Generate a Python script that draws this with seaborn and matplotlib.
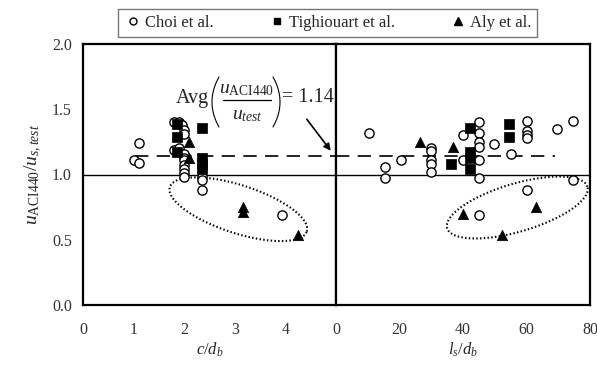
import numpy as np
import pandas as pd
import matplotlib
matplotlib.use("Agg")
import matplotlib.pyplot as plt
from matplotlib.lines import Line2D
import seaborn as sns

# ---- data: left panel (c/db) ----
choi_c = [1.0, 1.1, 1.1, 1.8, 1.9, 1.95, 2.0, 2.0, 1.8, 1.9, 2.0, 2.0, 2.0, 2.0, 2.0, 2.0, 2.0,
          2.35, 2.35, 2.35, 3.93]
choi_c_ratio = [1.11, 1.09, 1.24, 1.40, 1.40, 1.38, 1.34, 1.31, 1.19, 1.20, 1.16, 1.13, 1.11, 1.07,
                1.04, 1.01, 0.98, 0.98, 0.96, 0.88, 0.69]
tigh_c = [1.85, 1.85, 1.85, 2.35, 2.35, 2.35, 2.35]
tigh_c_ratio = [1.387, 1.29, 1.175, 1.354, 1.124, 1.08, 1.04]
aly_c = [2.1, 2.1, 3.16, 3.16, 4.24]
aly_c_ratio = [1.25, 1.13, 0.753, 0.71, 0.536]

# ---- data: right panel (ls/db) ----
choi_l = [10.4, 15.5, 15.5, 20.4, 30.0, 30.0, 30.0, 30.0, 30.0, 40.0, 40.0, 45.1, 45.1, 45.1, 45.1,
          45.1, 45.1, 45.1, 49.9, 55.0, 60.0, 60.0, 60.0, 60.0, 60.0, 69.5, 74.5, 74.5]
choi_l_ratio = [1.32, 1.06, 0.97, 1.11, 1.20, 1.18, 1.11, 1.08, 1.02, 1.30, 1.11, 1.40, 1.32, 1.25,
                1.21, 1.11, 0.976, 0.69, 1.234, 1.155, 1.41, 1.33, 1.30, 1.276, 0.88, 1.346, 1.41, 0.958]
tigh_l = [36.3, 42.3, 42.3, 42.3, 42.3, 54.6, 54.6]
tigh_l_ratio = [1.08, 1.354, 1.175, 1.124, 1.04, 1.387, 1.29]
aly_l = [26.5, 37.0, 39.9, 52.4, 63.0]
aly_l_ratio = [1.25, 1.21, 0.70, 0.536, 0.753]

avg_ratio = 1.14
series_names = ["Choi et al.", "Tighiouart et al.", "Aly et al."]
y_ticks = [0.0, 0.5, 1.0, 1.5, 2.0]
left_xticks = [0, 1, 2, 3, 4]
right_xticks = [0, 20, 40, 60, 80]

sns.set_style("white")
plt.rcParams["font.family"] = ["Liberation Serif", "DejaVu Serif"]
plt.rcParams["mathtext.fontset"] = "custom"
plt.rcParams["mathtext.rm"] = "Liberation Serif"
plt.rcParams["mathtext.it"] = "Liberation Serif:italic"
plt.rcParams["mathtext.bf"] = "Liberation Serif:bold"

W, H = 597, 374
fig = plt.figure(figsize=(W / 100, H / 100), dpi=100)
y0, y1 = 305, 44
axL = fig.add_axes([83 / W, (H - y0) / H, (336 - 83) / W, (y0 - y1) / H])
axR = fig.add_axes([336 / W, (H - y0) / H, (590 - 336) / W, (y0 - y1) / H])

styles = [
    dict(marker="o", facecolor="white", edgecolor="black", s=44, linewidth=1.0),
    dict(marker="s", facecolor="black", edgecolor="black", s=44, linewidth=0.5),
    dict(marker="^", facecolor="black", edgecolor="black", s=56, linewidth=0.5),
]

left_sets = [(choi_c, choi_c_ratio), (tigh_c, tigh_c_ratio), (aly_c, aly_c_ratio)]
right_sets = [(choi_l, choi_l_ratio), (tigh_l, tigh_l_ratio), (aly_l, aly_l_ratio)]

for ax, sets in ((axL, left_sets), (axR, right_sets)):
    for (xs, ys), st, name in zip(sets, styles, series_names):
        df = pd.DataFrame({"x": xs, "y": ys})
        sns.scatterplot(data=df, x="x", y="y", ax=ax, marker=st["marker"], s=st["s"],
                        color=st["facecolor"], edgecolor=st["edgecolor"],
                        linewidth=st["linewidth"], zorder=3, legend=False)

# reference lines
axL.axhline(1.0, color="black", lw=1.0, zorder=2)
axR.axhline(1.0, color="black", lw=1.0, zorder=2)
axL.plot([1.03, 5.0], [avg_ratio, avg_ratio], color="black", lw=1.2, dashes=(8, 5), zorder=2)
axR.plot([0.0, 69.0], [avg_ratio, avg_ratio], color="black", lw=1.2, dashes=(8, 5), zorder=2)

axL.set_xlim(0, 5)
axR.set_xlim(0, 80)
for ax in (axL, axR):
    ax.set_ylim(0, 2.0)
    for sp in ax.spines.values():
        sp.set_color("black")
        sp.set_linewidth(1.6)
    ax.set_ylabel("")

axL.set_xticks(left_xticks)
axR.set_xticks(right_xticks)
axL.set_yticks(y_ticks)
axL.set_yticklabels([f"{v:.1f}" for v in y_ticks])
axR.set_yticks(y_ticks)
axR.set_yticklabels([])
axL.tick_params(axis="x", length=0, pad=12, labelsize=11.5, labelcolor="#333333")
axR.tick_params(axis="x", length=0, pad=12, labelsize=11.5, labelcolor="#333333")
axL.tick_params(axis="y", direction="in", length=6, width=1.6, pad=8, labelsize=11.5,
                labelcolor="#333333")
axR.tick_params(axis="y", direction="out", length=4, width=1.6)

axL.set_xlabel(r"$c/d_b$", fontsize=12, labelpad=2)
axR.set_xlabel(r"$l_s/d_b$", fontsize=12, labelpad=2)
axL.set_ylabel(r"$u_{\rm ACI440}/u_{s,test}$", fontsize=14, labelpad=6)


# dotted ellipses drawn in pixel space and mapped to data units
def dotted_ellipse(ax, cx, cy, a_px, b_px, ang_deg, px_x, px_y):
    t = np.linspace(0, 2 * np.pi, 300)
    th = np.radians(ang_deg)
    dx = a_px * np.cos(t) * np.cos(th) - b_px * np.sin(t) * np.sin(th)
    dy = a_px * np.cos(t) * np.sin(th) + b_px * np.sin(t) * np.cos(th)
    ax.plot(cx + dx / px_x, cy + dy / px_y, color="black", lw=1.5,
            linestyle=(0, (0.7, 1.1)), clip_on=False, zorder=2)


dotted_ellipse(axL, 3.07, 0.734, 72, 24, -18, 50.6, 130.5)
dotted_ellipse(axR, 57.1, 0.747, 73, 24, 16.5, 3.17, 130.5)


# average annotation, typeset piece by piece in pixel positions
def fx(px):
    return px / W


def fy(py):
    return (H - py) / H


fig.text(fx(176), fy(98), "Avg", fontsize=14.5, ha="left", va="center")
fig.text(fx(247), fy(89), r"$u_{\rm ACI440}$", fontsize=14, ha="center", va="center")
fig.text(fx(247), fy(115), r"$u_{test}$", fontsize=14, ha="center", va="center")
fig.add_artist(Line2D([fx(223), fx(271)], [fy(100), fy(100)], color="black", lw=0.9))


def paren(x_edge, x_mid, top, bottom):
    t = np.linspace(-1, 1, 60)
    xs = x_mid + (x_edge - x_mid) * t ** 2
    ys = (top + bottom) / 2 + (bottom - top) / 2 * t
    fig.add_artist(Line2D([fx(v) for v in xs], [fy(v) for v in ys], color="black", lw=0.8))


paren(219, 212, 77, 127)
paren(273, 280, 77, 127)
fig.text(fx(282), fy(98), "= 1.14", fontsize=14.5, ha="left", va="center")

axL.annotate("", xy=(4.93, 1.165), xytext=(4.39, 1.44),
             arrowprops=dict(arrowstyle="-|>", color="black", lw=1.2, mutation_scale=10))

# legend above the panels
handles = [
    Line2D([], [], marker="o", linestyle="none", markerfacecolor="white",
           markeredgecolor="black", markersize=5, markeredgewidth=1.0),
    Line2D([], [], marker="s", linestyle="none", markerfacecolor="black",
           markeredgecolor="black", markersize=5),
    Line2D([], [], marker="^", linestyle="none", markerfacecolor="black",
           markeredgecolor="black", markersize=5.5),
]
leg = fig.legend(handles, series_names, loc="center", bbox_to_anchor=(327.5 / W, (H - 23) / H),
                 ncol=3, frameon=True, fancybox=False, fontsize=12, handletextpad=0.1,
                 columnspacing=3.2, handlelength=1.2, borderpad=0.35)
leg.get_frame().set_edgecolor("#555555")
leg.get_frame().set_linewidth(1.0)

fig.savefig("out.png", dpi=100)
